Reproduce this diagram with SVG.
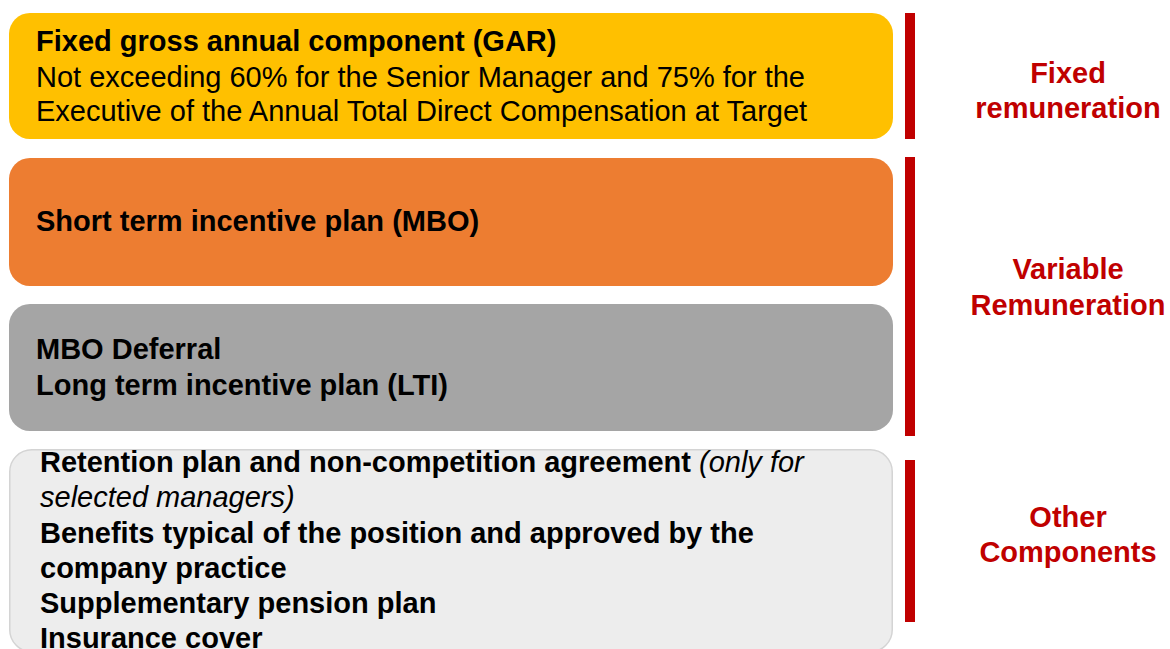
<svg xmlns="http://www.w3.org/2000/svg" width="1170" height="649" viewBox="0 0 1170 649">
<style>
.t{font-family:"Liberation Sans",Arial,sans-serif;font-size:29px;fill:#000}
.b{font-weight:bold}
.i{font-style:italic;font-weight:normal}
.lbl{font-family:"Liberation Sans",Arial,sans-serif;font-size:29px;font-weight:bold;fill:#C00000;text-anchor:middle}
.bar{fill:#C00000}
</style>
<rect width="1170" height="649" fill="#fff"/>
<g id="fixed-gar">
<rect x="9" y="13" width="884" height="126" rx="21" fill="#FFC000"/>
<text class="t b" x="36" y="51">Fixed gross annual component (GAR)</text>
<text class="t" x="36" y="87">Not exceeding 60% for the Senior Manager and 75% for the</text>
<text class="t" x="36" y="121">Executive of the Annual Total Direct Compensation at Target</text>
</g>
<g id="mbo">
<rect x="9" y="158" width="884" height="128" rx="21" fill="#ED7D31"/>
<text class="t b" x="36" y="231">Short term incentive plan (MBO)</text>
</g>
<g id="lti">
<rect x="9" y="304" width="884" height="127" rx="21" fill="#A5A5A5"/>
<text class="t b" x="36" y="359">MBO Deferral</text>
<text class="t b" x="36" y="395">Long term incentive plan (LTI)</text>
</g>
<g id="other">
<rect x="9.75" y="449.75" width="882.5" height="202" rx="22" fill="#EDEDED" stroke="#D4D4D4" stroke-width="1.5"/>
<text class="t b" x="40" y="472">Retention plan and non-competition agreement <tspan class="i">(only for</tspan></text>
<text class="t i" x="40" y="507">selected managers)</text>
<text class="t b" x="40" y="543">Benefits typical of the position and approved by the</text>
<text class="t b" x="40" y="578">company practice</text>
<text class="t b" x="40" y="613">Supplementary pension plan</text>
<text class="t b" x="40" y="648">Insurance cover</text>
</g>
<g id="connectors">
<rect class="bar" x="905" y="13" width="10" height="126"/>
<rect class="bar" x="905" y="157" width="10" height="279"/>
<rect class="bar" x="905" y="460" width="10" height="162"/>
</g>
<g id="label-fixed">
<text class="lbl" x="1068" y="83">Fixed</text>
<text class="lbl" x="1068" y="118">remuneration</text>
</g>
<g id="label-variable">
<text class="lbl" x="1068" y="279">Variable</text>
<text class="lbl" x="1068" y="315">Remuneration</text>
</g>
<g id="label-other">
<text class="lbl" x="1068" y="527">Other</text>
<text class="lbl" x="1068" y="562">Components</text>
</g>
</svg>
